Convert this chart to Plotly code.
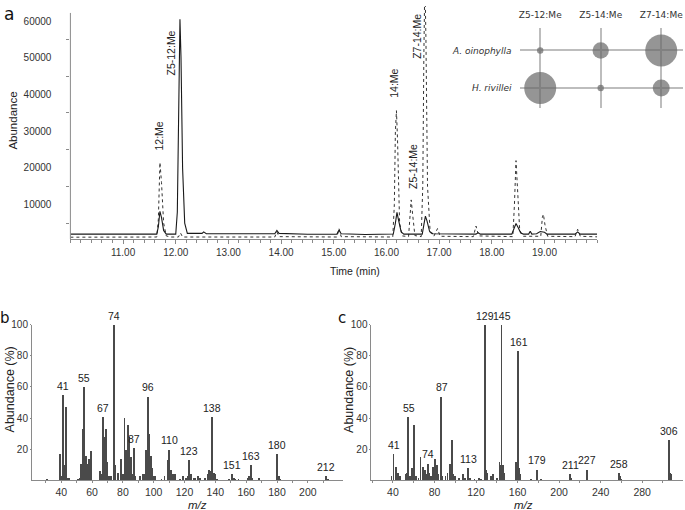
import plotly.graph_objects as go

W, H = 685, 510
def px(x):
    return x / W
def py(y):
    return 1 - y / H

# ---------------- Panel a: chromatogram ----------------
t_solid = [10.00, 10.50, 11.00, 11.50, 11.64, 11.67, 11.70, 11.73, 11.77, 11.82,
           12.00, 12.03, 12.06, 12.08, 12.10, 12.13, 12.17, 12.22, 12.50, 12.53,
           12.58, 13.20, 13.88, 13.92, 13.96, 14.50, 15.06, 15.10, 15.14, 15.60,
           16.13, 16.17, 16.20, 16.23, 16.28, 16.33, 16.68, 16.71, 16.74, 16.77,
           16.82, 16.88, 17.70, 17.74, 17.78, 18.38, 18.42, 18.46, 18.50, 18.55,
           18.60, 18.70, 18.73, 18.76, 18.85, 18.92, 19.00, 19.05, 19.58, 19.63,
           19.68, 20.00]
a_solid = [2000, 1950, 2000, 1950, 2000, 4000, 8200, 6500, 3000, 2000,
           2000, 8000, 45000, 60500, 50000, 20000, 5000, 2200, 2200, 2600,
           2100, 2100, 2100, 3000, 2200, 1950, 2000, 3100, 2100, 1900,
           2000, 5000, 7900, 5800, 2600, 2000, 2000, 4500, 6900, 5600,
           2700, 2100, 2000, 2400, 2000, 2000, 3500, 4900, 3800, 2300,
           2000, 2000, 2800, 2000, 2100, 2700, 2500, 2000, 2000, 2600,
           2000, 2000]

t_dash = [10.00, 11.00, 11.64, 11.67, 11.70, 11.73, 11.77, 11.82, 11.90, 12.05,
          12.09, 12.13, 13.00, 13.88, 13.92, 13.96, 15.06, 15.10, 15.14, 16.12,
          16.15, 16.17, 16.19, 16.21, 16.25, 16.30, 16.42, 16.45, 16.47, 16.50,
          16.54, 16.66, 16.69, 16.71, 16.73, 16.75, 16.78, 16.83, 16.90, 16.97,
          17.02, 17.65, 17.70, 17.75, 18.40, 18.43, 18.46, 18.49, 18.53, 18.60,
          18.93, 18.96, 18.98, 19.01, 19.06, 19.58, 19.63, 19.68, 20.00]
a_dash = [1150, 1150, 1200, 6000, 21500, 16000, 5000, 1500, 1200, 1200,
          2300, 1200, 1200, 1200, 2600, 1300, 1200, 3500, 1300, 1200,
          10000, 30000, 35600, 28000, 5000, 1500, 1300, 6000, 11300, 7000,
          1600, 1300, 15000, 50000, 72000, 55000, 15000, 2500, 1400, 3500,
          1400, 1300, 4200, 1500, 1300, 10000, 22000, 14000, 3000, 1400,
          1400, 6500, 7400, 4500, 1400, 1300, 3300, 1400, 1250]

time_ticks = [11, 12, 13, 14, 15, 16, 17, 18, 19]
abund_ticks = [10000, 20000, 30000, 40000, 50000, 60000]

peak_names = ["12:Me", "Z5-12:Me", "14:Me", "Z5-14:Me", "Z7-14:Me"]
peak_label_t = [11.68, 11.905, 16.13, 16.50, 16.58]
peak_label_a = [24300, 44700, 38500, 13800, 49300]

# ---------------- Inset: bubble chart ----------------
compounds = ["Z5-12:Me", "Z5-14:Me", "Z7-14:Me"]
species = ["H. rivillei", "A. oinophylla"]
ratio_A_oinophylla = [0.04, 0.26, 1.00]
ratio_H_rivillei = [1.00, 0.04, 0.28]

# ---------------- Panel b: mass spectrum ----------------
mz_b = [31, 39, 40, 41, 42, 43, 44, 45, 51, 52, 53, 54, 55, 56, 57, 58, 59,
        65, 66, 67, 68, 69, 70, 71, 72, 74, 75, 77, 79, 80, 81, 82, 83, 84, 85,
        86, 87, 88, 91, 93, 94, 95, 96, 97, 98, 99, 100, 101, 105, 107, 109,
        110, 111, 112, 113, 114, 117, 119, 121, 122, 123, 124, 126, 127, 129,
        130, 133, 135, 136, 137, 138, 139, 140, 141, 149, 151, 152, 153, 155,
        161, 162, 163, 164, 168, 180, 181, 182, 212, 213]
ab_b = [1, 17, 3, 55, 10, 47, 2, 2, 1, 2, 11, 33, 60, 16, 11, 14, 19,
        6, 4, 41, 28, 33, 12, 3, 3, 100, 10, 5, 14, 4, 40, 20, 36, 28, 15,
        4, 21, 3, 3, 4, 4, 20, 54, 30, 16, 8, 3, 3, 1, 3, 13,
        20, 7, 4, 4, 4, 1, 3, 2, 3, 13, 4, 2, 2, 3,
        2, 2, 4, 7, 6, 41, 5, 4, 1, 1, 4, 2, 1, 1,
        2, 3, 10, 2, 2, 17, 3, 1, 3, 1]
labels_b = [41, 55, 67, 74, 87, 96, 110, 123, 138, 151, 163, 180, 212]

# ---------------- Panel c: mass spectrum ----------------
mz_c = [39, 41, 43, 45, 47, 53, 54, 55, 57, 59, 61, 63, 65, 67, 69, 71, 72,
        74, 75, 77, 79, 81, 83, 84, 87, 88, 91, 93, 95, 97, 98, 100, 104, 108,
        110, 113, 115, 119, 123, 125, 129, 130, 131, 135, 137, 141, 143, 144,
        145, 146, 147, 159, 160, 161, 162, 163, 173, 179, 183, 211, 212, 227,
        258, 259, 260, 306, 307, 308]
ab_c = [3, 17, 9, 5, 3, 4, 5, 41, 3, 8, 36, 3, 2, 15, 9, 7, 4,
        11, 5, 3, 9, 14, 10, 4, 54, 3, 3, 5, 11, 26, 4, 3, 2, 4,
        2, 8, 2, 1, 2, 1, 100, 7, 5, 3, 4, 2, 12, 10,
        100, 10, 5, 12, 8, 83, 8, 4, 1, 7, 1, 4, 2, 7,
        5, 3, 1, 26, 5, 4]
labels_c = [41, 55, 74, 87, 113, 129, 145, 161, 179, 211, 227, 258, 306]

FONT = "Liberation Sans, Arial, sans-serif"
AXC = "#8a8a8a"
TXT = "#333333"

fig = go.Figure()

fig.add_trace(go.Scatter(x=t_dash, y=a_dash, mode="lines",
                         line=dict(color="#333333", width=1, dash="dot"),
                         xaxis="x", yaxis="y", hoverinfo="skip"))
fig.add_trace(go.Scatter(x=t_solid, y=a_solid, mode="lines",
                         line=dict(color="#1a1a1a", width=1.1),
                         xaxis="x", yaxis="y", hoverinfo="skip"))

# bubbles
bub_x = compounds + compounds
bub_y = ["A. oinophylla"] * 3 + ["H. rivillei"] * 3
bub_s = ratio_A_oinophylla + ratio_H_rivillei
ymap = {"H. rivillei": 0, "A. oinophylla": 1}
fig.add_trace(go.Scatter(x=[compounds.index(c) for c in bub_x],
                         y=[ymap[s] for s in bub_y], mode="markers",
                         marker=dict(size=bub_s, sizemode="area",
                                     sizeref=2.0 * max(bub_s) / (32 ** 2),
                                     color="#686868", line=dict(width=0)),
                         xaxis="x4", yaxis="y4", hoverinfo="skip"))

fig.add_trace(go.Bar(x=mz_b, y=ab_b, width=0.6, marker=dict(color="#4a4a4a", line=dict(width=0)),
                     xaxis="x2", yaxis="y2", hoverinfo="skip"))
fig.add_trace(go.Bar(x=mz_c, y=ab_c, width=0.85, marker=dict(color="#4a4a4a", line=dict(width=0)),
                     xaxis="x3", yaxis="y3", hoverinfo="skip"))

annotations = []
for name, t, a in zip(peak_names, peak_label_t, peak_label_a):
    annotations.append(dict(x=t, y=a, xref="x", yref="y", text=name, textangle=-90,
                            showarrow=False, xanchor="center", yanchor="bottom",
                            font=dict(size=10.5, color="#222", family=FONT)))
for m in labels_b:
    annotations.append(dict(x=m, y=ab_b[mz_b.index(m)], xref="x2", yref="y2", text=str(m),
                            showarrow=False, xanchor="center", yanchor="bottom", yshift=1,
                            font=dict(size=10.5, color="#222", family=FONT)))
for m in labels_c:
    annotations.append(dict(x=m, y=ab_c[mz_c.index(m)], xref="x3", yref="y3", text=str(m),
                            showarrow=False, xanchor="center", yanchor="bottom", yshift=1,
                            font=dict(size=10.5, color="#222", family=FONT)))

def ptext(x, y, text, size, angle=0, family=FONT, color="#222"):
    annotations.append(dict(x=px(x), y=py(y), xref="paper", yref="paper", text=text,
                            textangle=angle, showarrow=False, xanchor="center",
                            yanchor="middle", font=dict(size=size, color=color, family=family)))

ptext(8, 8, "a", 17, family="DejaVu Sans, sans-serif", color="#111")
ptext(4.5, 316, "b", 15, family="DejaVu Sans, sans-serif", color="#111")
ptext(341.5, 316, "c", 15, family="DejaVu Sans, sans-serif", color="#111")
ptext(12, 116, "Abundance", 11.5, angle=-90)
ptext(355, 268, "Time (min)", 10.5)
ptext(9, 388, "Abundance (%)", 12.5, angle=-90)
ptext(349, 388, "Abundance (%)", 12.5, angle=-90)
ptext(197, 505, "<i>m/z</i>", 11.5)
ptext(523, 505, "<i>m/z</i>", 11.5)

tickfont = dict(size=10, color=TXT, family=FONT)
insetfont = dict(size=9, color="#333", family="DejaVu Sans, sans-serif")
spec_yfont = dict(size=10, color=TXT, family=FONT)
spec_xfont = dict(size=10.5, color=TXT, family=FONT)

fig.update_layout(
    width=W, height=H, margin=dict(l=0, r=0, t=0, b=0),
    paper_bgcolor="white", plot_bgcolor="rgba(0,0,0,0)",
    showlegend=False, bargap=0,
    font=dict(family=FONT, color=TXT),
    annotations=annotations,
    xaxis=dict(domain=[px(69.5), px(597)], range=[10, 20], anchor="y",
               tickmode="array", tickvals=time_ticks,
               ticktext=["%.2f" % v for v in time_ticks],
               ticks="outside", ticklen=4, tickcolor=AXC, showline=True, linecolor=AXC,
               showgrid=False, zeroline=False, tickfont=dict(size=10, color=TXT, family=FONT),
               minor=dict(tickmode="linear", tick0=10, dtick=0.2, ticks="outside",
                          ticklen=3, tickcolor=AXC, showgrid=False)),
    yaxis=dict(domain=[py(236), 1.0], range=[600, 64090], anchor="x",
               tickmode="array", tickvals=abund_ticks, ticktext=[str(v) for v in abund_ticks],
               ticks="outside", ticklen=16, tickcolor="rgba(0,0,0,0)", showline=False,
               showgrid=False, zeroline=False, tickfont=tickfont,
               minor=dict(tickmode="linear", tick0=5000, dtick=10000, ticks="outside",
                          ticklen=3, tickcolor=AXC, showgrid=False)),
    xaxis2=dict(domain=[px(31), px(342)], range=[21, 222.5], anchor="y2",
                tickmode="array", tickvals=list(range(40, 201, 20)),
                ticks="outside", ticklen=2, tickcolor=AXC, showline=True, linecolor=AXC,
                showgrid=False, zeroline=False, tickfont=spec_xfont,
                minor=dict(tickmode="linear", tick0=30, dtick=20, ticks="outside",
                           ticklen=2, tickcolor=AXC, showgrid=False)),
    yaxis2=dict(domain=[py(480), py(322.5)], range=[0, 100], anchor="x2",
                tickmode="array", tickvals=[20, 40, 60, 80, 100],
                ticks="outside", ticklen=1, tickcolor=AXC, showline=True, linecolor=AXC,
                showgrid=False, zeroline=False, tickfont=spec_yfont),
    xaxis3=dict(domain=[px(371), px(683)], range=[19.3, 319.3], anchor="y3",
                tickmode="array", tickvals=list(range(40, 281, 40)),
                ticks="outside", ticklen=2, tickcolor=AXC, showline=True, linecolor=AXC,
                showgrid=False, zeroline=False, tickfont=spec_xfont,
                minor=dict(tickmode="linear", tick0=20, dtick=40, ticks="outside",
                           ticklen=2, tickcolor=AXC, showgrid=False)),
    yaxis3=dict(domain=[py(480), py(322.5)], range=[0, 100], anchor="x3",
                tickmode="array", tickvals=[20, 40, 60, 80, 100],
                ticks="outside", ticklen=1, tickcolor=AXC, showline=True, linecolor=AXC,
                showgrid=False, zeroline=False, tickfont=spec_yfont),
    xaxis4=dict(domain=[px(520), px(683)], range=[-0.33, 2.36], anchor="y4", side="top",
                tickmode="array", tickvals=[0, 1, 2], ticktext=compounds,
                ticks="outside", ticklen=5, tickcolor="rgba(0,0,0,0)",
                showline=False, zeroline=False, showgrid=True,
                gridcolor="#bdbdbd", gridwidth=2, tickfont=insetfont),
    yaxis4=dict(domain=[py(103), py(22)], range=[-0.526, 1.605], anchor="x4",
                tickmode="array", tickvals=[0, 1],
                ticktext=["<i>" + s + "</i>" for s in species],
                ticks="outside", ticklen=6, tickcolor="rgba(0,0,0,0)",
                showline=False, zeroline=False, showgrid=True,
                gridcolor="#bdbdbd", gridwidth=2, tickfont=insetfont),
    shapes=[dict(type="line", xref="x domain", yref="y", x0=0, x1=0, y0=600, y1=62200,
                 line=dict(color=AXC, width=1))],
)

fig.write_html("out.html", config={"displayModeBar": False},
               post_script="document.body.style.margin='0px';document.body.style.overflow='hidden';")
